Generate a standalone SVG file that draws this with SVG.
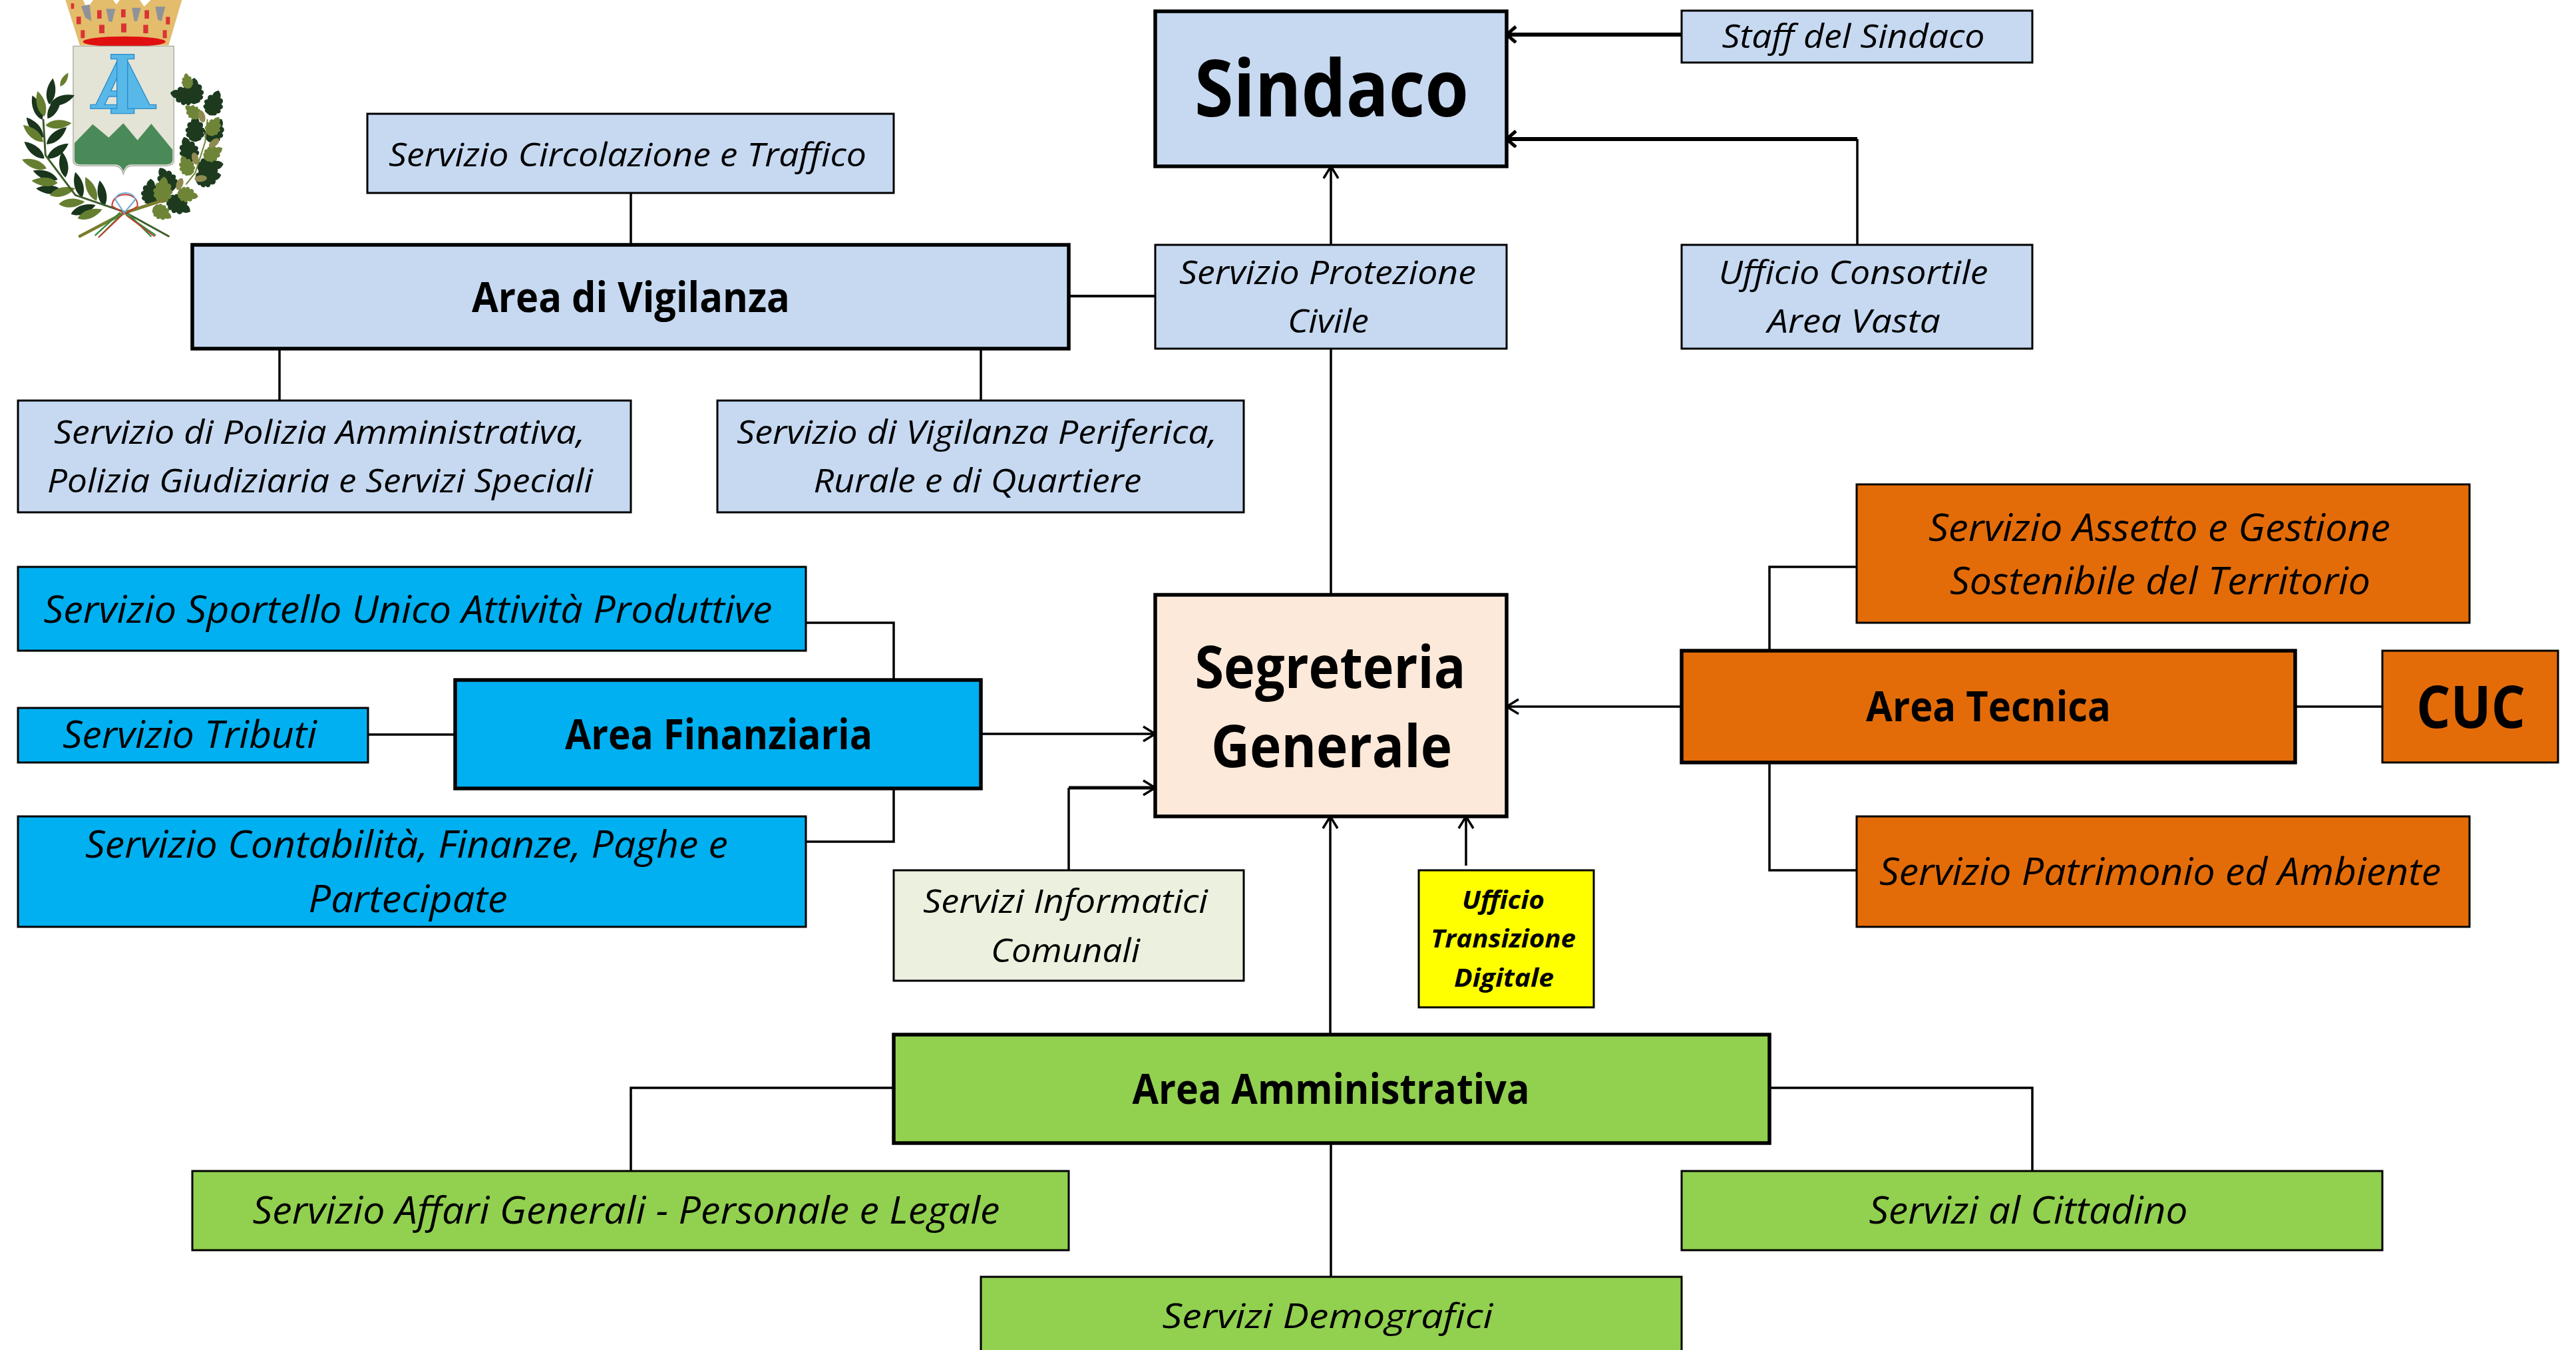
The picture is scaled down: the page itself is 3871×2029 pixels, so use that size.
<svg xmlns="http://www.w3.org/2000/svg" xmlns:xlink="http://www.w3.org/1999/xlink" width="3871" height="2029" viewBox="0 0 3871 2029">
<style>
text{font-family:"Open Sans","Noto Sans","Liberation Sans",sans-serif;fill:#000;text-anchor:middle}
.n{font-size:50px;font-style:italic;font-weight:400}
.l{font-size:56px;font-style:italic;font-weight:400}
.b{font-size:62px;font-weight:700}
.h{font-size:88px;font-weight:700}
.y{font-size:38px;font-style:italic;font-weight:700}
.t{stroke:#000;stroke-width:5.5}
.f{stroke:#000;stroke-width:3}
.c{fill:none;stroke:#000;stroke-width:3.5}
.k{fill:none;stroke:#000;stroke-width:6}
.blue{fill:#C6D9F1}.cy{fill:#00B0F0}.or{fill:#E36C09}.gr{fill:#92D050}.be{fill:#FDE9D9}.pg{fill:#EBF1DE}.ye{fill:#FFFF00}
</style>
<defs>
<marker id="a" markerUnits="userSpaceOnUse" markerWidth="30" markerHeight="30" refX="24" refY="13" orient="auto"><path d="M6 2L24 13L6 24" fill="none" stroke="#000" stroke-width="3.5"/></marker>
<marker id="ak" markerUnits="userSpaceOnUse" markerWidth="30" markerHeight="30" refX="24" refY="13" orient="auto"><path d="M10 1L24 13L10 25" fill="none" stroke="#000" stroke-width="5"/></marker>
<path id="lf" d="M0 0C-26 -28 -26 -78 0 -118C26 -78 26 -28 0 0Z"/>
<g id="oak" transform="scale(1.35)"><path d="M0 0C-12 -4 -24 -6 -20 -14C-30 -16 -34 -26 -26 -30C-36 -36 -34 -46 -24 -48C-30 -58 -24 -68 -14 -66C-14 -78 -6 -84 0 -88C6 -84 14 -78 14 -66C24 -68 30 -58 24 -48C34 -46 36 -36 26 -30C34 -26 30 -16 20 -14C24 -6 12 -4 0 0Z"/></g>
</defs>
<rect width="3871" height="2029" fill="#fff"/>
<g id="emblem" transform="scale(0.3333)">
<g id="crown">
<path d="M295 0L375 0L392 40L420 0L510 0L525 20L540 0L630 0L650 30L680 0L820 0L760 205L360 205Z" fill="#E3BC6C"/>
<path d="M366 28L404 20L412 95L385 80ZM478 40L520 40L505 100L490 95ZM595 35L635 35L618 95L605 95ZM700 30L745 30L728 95L712 90Z" fill="#8E939A"/>
<g fill="#D93434"><rect x="320" y="15" width="14" height="25"/><rect x="345" y="75" width="20" height="34"/><rect x="438" y="46" width="20" height="38"/><rect x="546" y="42" width="20" height="36"/><rect x="652" y="46" width="20" height="38"/><rect x="748" y="76" width="18" height="34"/><rect x="364" y="136" width="18" height="36"/><rect x="447" y="112" width="24" height="38"/><rect x="546" y="106" width="24" height="40"/><rect x="646" y="112" width="22" height="38"/><rect x="734" y="136" width="18" height="36"/></g>
<ellipse cx="560" cy="188" rx="186" ry="24" fill="#E01010"/>
</g>
<path d="M330 208H784V725Q784 748 740 748H590Q565 752 556 785Q547 752 522 748H372Q330 748 330 725Z" fill="#E3E3D6" stroke="#A8A8A0" stroke-width="4"/>
<path d="M336 645L418 560L490 620L556 556L620 632L682 558L778 675V722Q778 742 740 742H590Q566 744 556 772Q546 744 522 742H372Q336 742 336 722Z" fill="#4A8A58"/>
<g fill="#58B8E8" stroke="#2A8CCC" stroke-width="4">
<path fill-rule="evenodd" d="M408 490V472H432L528 275H575L675 472H704V490ZM500 410L528 350V410ZM472 472L490 435H528V472Z"/>
<path d="M500 245H605V266H575V490H605V512H500V490H527V266H500Z"/>
</g>
<g fill="#19351C">
<use xlink:href="#lf" transform="translate(222,470) rotate(8)"/><use xlink:href="#lf" transform="translate(225,470) rotate(70)"/><use xlink:href="#lf" transform="translate(190,540) rotate(-22)"/><use xlink:href="#lf" transform="translate(215,535) rotate(30)"/>
<use xlink:href="#lf" transform="translate(195,620) rotate(-40)"/><use xlink:href="#lf" transform="translate(210,650) rotate(50)"/><use xlink:href="#lf" transform="translate(200,715) rotate(-50)"/><use xlink:href="#lf" transform="translate(212,715) rotate(55)"/>
<use xlink:href="#lf" transform="translate(295,800) rotate(-8)"/><use xlink:href="#lf" transform="translate(260,810) rotate(-70)"/><use xlink:href="#lf" transform="translate(280,860) rotate(-85)"/><use xlink:href="#lf" transform="translate(370,890) rotate(-15)"/><use xlink:href="#lf" transform="translate(470,930) rotate(-10)"/><use xlink:href="#lf" transform="translate(320,965) rotate(70)"/>
</g>
<g fill="#667E30">
<use xlink:href="#lf" transform="translate(272,390) rotate(30) scale(.6)"/><use xlink:href="#lf" transform="translate(200,525) rotate(-15)"/><use xlink:href="#lf" transform="translate(205,565) rotate(85)"/><use xlink:href="#lf" transform="translate(195,640) rotate(-50)"/><use xlink:href="#lf" transform="translate(210,760) rotate(-70)"/><use xlink:href="#lf" transform="translate(260,825) rotate(-85)"/><use xlink:href="#lf" transform="translate(225,880) rotate(75)"/><use xlink:href="#lf" transform="translate(435,905) rotate(-25)"/><use xlink:href="#lf" transform="translate(265,920) rotate(85)"/><use xlink:href="#lf" transform="translate(350,985) rotate(70)"/>
</g>
<g fill="#1D3A1F">
<use xlink:href="#oak" transform="translate(875,470)"/><use xlink:href="#oak" transform="translate(885,440) rotate(-80)"/><use xlink:href="#oak" transform="translate(945,520) rotate(20)"/><use xlink:href="#oak" transform="translate(880,640)"/><use xlink:href="#oak" transform="translate(940,640) rotate(30)"/><use xlink:href="#oak" transform="translate(870,730) rotate(-20)"/><use xlink:href="#oak" transform="translate(890,760) rotate(80)"/><use xlink:href="#oak" transform="translate(880,810) rotate(80)"/><use xlink:href="#oak" transform="translate(780,860) rotate(-30)"/><use xlink:href="#oak" transform="translate(680,925) rotate(0)"/><use xlink:href="#oak" transform="translate(755,895) rotate(120)"/>
</g>
<g fill="#6E8538">
<use xlink:href="#oak" transform="translate(850,400) rotate(-10) scale(.6)"/><use xlink:href="#oak" transform="translate(900,530) rotate(-50) scale(.7)"/><use xlink:href="#oak" transform="translate(940,610) rotate(30) scale(.8)"/><use xlink:href="#oak" transform="translate(920,715) rotate(60) scale(.8)"/><use xlink:href="#oak" transform="translate(860,790) rotate(-25) scale(.8)"/><use xlink:href="#oak" transform="translate(730,915) rotate(5)"/><use xlink:href="#oak" transform="translate(800,870) rotate(100) scale(.8)"/><use xlink:href="#oak" transform="translate(690,935) rotate(120) scale(.8)"/>
</g>
<g fill="none" stroke-linecap="round">
<path d="M360 1065L560 960L745 900" stroke="#7A7D2E" stroke-width="14"/>
<path d="M760 1065L560 955L340 880L205 700L195 540" stroke="#3E5D28" stroke-width="9"/>
<path d="M935 540L925 640L880 780L840 830" stroke="#6E8538" stroke-width="6"/>
<path d="M505 930C505 860 625 860 620 930L565 965L505 930" stroke="#CC3A2E" stroke-width="6"/>
<path d="M520 900C530 860 600 860 610 900L560 960L520 900" stroke="#6BA8D8" stroke-width="6"/>
<path d="M540 960L430 1060M545 970L450 1065M580 965L680 1065M570 970L700 1060" stroke="#2F8A3B" stroke-width="7"/>
<path d="M550 970L445 1070M575 975L695 1065" stroke="#CC3A2E" stroke-width="6"/>
</g>
<g fill="#8E8A50"><ellipse cx="910" cy="525" rx="15" ry="28" transform="rotate(-15 910 525)"/><ellipse cx="965" cy="645" rx="15" ry="28" transform="rotate(50 965 645)"/><ellipse cx="880" cy="715" rx="15" ry="28" transform="rotate(-15 880 715)"/><ellipse cx="905" cy="805" rx="15" ry="28" transform="rotate(85 905 805)"/><ellipse cx="810" cy="830" rx="15" ry="28" transform="rotate(20 810 830)"/></g>
</g>
<g id="connectors">
<path class="k" marker-end="url(#ak)" d="M2527 52H2264"/>
<path class="c" d="M2791 368V209"/><path class="k" marker-end="url(#ak)" d="M2791 209H2264"/>
<path class="c" marker-end="url(#a)" d="M2000 368V250"/>
<path class="c" d="M2000 894V524"/>
<path class="k" style="stroke-width:4" d="M1606 445H1736"/>
<path class="c" d="M948 290V368"/><path class="c" d="M420 524V602"/><path class="c" d="M1474 524V602"/>
<path class="c" d="M1211 936H1343V1022"/><path class="c" d="M1343 1185V1265H1211"/>
<path class="c" d="M553 1104H684"/>
<path class="c" marker-end="url(#a)" d="M1474 1103H1736"/>
<path class="c" d="M1606 1308V1184"/><path class="k" style="stroke-width:5" marker-end="url(#a)" d="M1606 1184H1736"/>
<path class="c" marker-end="url(#a)" d="M2203 1301V1227"/>
<path class="c" marker-end="url(#a)" d="M1999 1555V1227"/>
<path class="c" marker-end="url(#a)" d="M2527 1062H2264"/>
<path class="c" d="M3449 1062H3580"/>
<path class="c" d="M2790 852H2659V978"/><path class="c" d="M2659 1146V1308H2790"/>
<path class="c" d="M1343 1635H948V1760"/><path class="c" d="M2659 1635H3054V1760"/>
<path class="c" d="M2000 1718V1919"/>
</g>
<g id="sindaco"><rect class="t blue" x="1736" y="17" width="528" height="233"/><text class="h" style="font-size:118px" x="2001" y="175" textLength="412" lengthAdjust="spacingAndGlyphs">Sindaco</text></g>
<g id="staff"><rect class="f blue" x="2527" y="16" width="527" height="78"/><text class="n" x="2785" y="72" textLength="395" lengthAdjust="spacingAndGlyphs">Staff del Sindaco</text></g>
<g id="protezione"><rect class="f blue" x="1736" y="368" width="528" height="156"/><text class="n" x="1995" y="427" textLength="446" lengthAdjust="spacingAndGlyphs">Servizio Protezione</text><text class="n" x="1996" y="500" textLength="122" lengthAdjust="spacingAndGlyphs">Civile</text></g>
<g id="consortile"><rect class="f blue" x="2527" y="368" width="527" height="156"/><text class="n" x="2785" y="427" textLength="405" lengthAdjust="spacingAndGlyphs">Ufficio Consortile</text><text class="n" x="2786" y="500" textLength="260" lengthAdjust="spacingAndGlyphs">Area Vasta</text></g>
<g id="circolazione"><rect class="f blue" x="552" y="171" width="791" height="119"/><text class="n" x="943" y="250" textLength="718" lengthAdjust="spacingAndGlyphs">Servizio Circolazione e Traffico</text></g>
<g id="vigilanza"><rect class="t blue" x="289" y="368" width="1317" height="156"/><text class="b" x="948" y="469" textLength="478" lengthAdjust="spacingAndGlyphs">Area di Vigilanza</text></g>
<g id="polizia"><rect class="f blue" x="27" y="602" width="921" height="168"/><text class="n" x="480" y="667" textLength="798" lengthAdjust="spacingAndGlyphs">Servizio di Polizia Amministrativa,</text><text class="n" x="481" y="740" textLength="820" lengthAdjust="spacingAndGlyphs">Polizia Giudiziaria e Servizi Speciali</text></g>
<g id="periferica"><rect class="f blue" x="1078" y="602" width="791" height="168"/><text class="n" x="1468" y="667" textLength="722" lengthAdjust="spacingAndGlyphs">Servizio di Vigilanza Periferica,</text><text class="n" x="1469" y="740" textLength="493" lengthAdjust="spacingAndGlyphs">Rurale e di Quartiere</text></g>
<g id="sportello"><rect class="f cy" x="27" y="852" width="1184" height="126"/><text class="l" x="613" y="936" textLength="1095" lengthAdjust="spacingAndGlyphs">Servizio Sportello Unico Attività Produttive</text></g>
<g id="tributi"><rect class="f cy" x="27" y="1064" width="526" height="82"/><text class="l" x="285" y="1124" textLength="382" lengthAdjust="spacingAndGlyphs">Servizio Tributi</text></g>
<g id="finanziaria"><rect class="t cy" x="684" y="1022" width="790" height="163"/><text class="b" x="1080" y="1126" textLength="462" lengthAdjust="spacingAndGlyphs">Area Finanziaria</text></g>
<g id="contabilita"><rect class="f cy" x="27" y="1227" width="1184" height="166"/><text class="l" x="611" y="1289" textLength="966" lengthAdjust="spacingAndGlyphs">Servizio Contabilità, Finanze, Paghe e</text><text class="l" x="613" y="1371" textLength="299" lengthAdjust="spacingAndGlyphs">Partecipate</text></g>
<g id="segreteria"><rect class="t be" x="1736" y="894" width="528" height="333"/><text class="h" x="1999" y="1034" textLength="407" lengthAdjust="spacingAndGlyphs">Segreteria</text><text class="h" x="2001" y="1153" textLength="362" lengthAdjust="spacingAndGlyphs">Generale</text></g>
<g id="informatici"><rect class="f pg" x="1343" y="1308" width="526" height="166"/><text class="n" x="1601" y="1372" textLength="428" lengthAdjust="spacingAndGlyphs">Servizi Informatici</text><text class="n" x="1601" y="1446" textLength="224" lengthAdjust="spacingAndGlyphs">Comunali</text></g>
<g id="transizione"><rect class="f ye" x="2132" y="1308" width="263" height="206"/><text class="y" x="2259" y="1366" textLength="124" lengthAdjust="spacingAndGlyphs">Ufficio</text><text class="y" x="2259" y="1424" textLength="218" lengthAdjust="spacingAndGlyphs">Transizione</text><text class="y" x="2260" y="1483" textLength="150" lengthAdjust="spacingAndGlyphs">Digitale</text></g>
<g id="amministrativa"><rect class="t gr" x="1343" y="1555" width="1316" height="163"/><text class="b" x="2000" y="1659" textLength="597" lengthAdjust="spacingAndGlyphs">Area Amministrativa</text></g>
<g id="affari"><rect class="f gr" x="289" y="1760" width="1317" height="119"/><text class="l" x="941" y="1839" textLength="1123" lengthAdjust="spacingAndGlyphs">Servizio Affari Generali - Personale e Legale</text></g>
<g id="cittadino"><rect class="f gr" x="2527" y="1760" width="1053" height="119"/><text class="l" x="3048" y="1839" textLength="479" lengthAdjust="spacingAndGlyphs">Servizi al Cittadino</text></g>
<g id="demografici"><rect class="f gr" x="1474" y="1919" width="1053" height="130"/><text class="n" style="font-size:52px" x="1995" y="1996" textLength="497" lengthAdjust="spacingAndGlyphs">Servizi Demografici</text></g>
<g id="tecnica"><rect class="t or" x="2527" y="978" width="922" height="168"/><text class="b" x="2988" y="1084" textLength="368" lengthAdjust="spacingAndGlyphs">Area Tecnica</text></g>
<g id="cuc"><rect class="f or" x="3580" y="978" width="264" height="168"/><text class="h" x="3713" y="1094" textLength="164" lengthAdjust="spacingAndGlyphs">CUC</text></g>
<g id="assetto"><rect class="f or" x="2790" y="728" width="921" height="208"/><text class="l" x="3245" y="813" textLength="694" lengthAdjust="spacingAndGlyphs">Servizio Assetto e Gestione</text><text class="l" x="3246" y="893" textLength="632" lengthAdjust="spacingAndGlyphs">Sostenibile del Territorio</text></g>
<g id="patrimonio"><rect class="f or" x="2790" y="1227" width="921" height="166"/><text class="l" x="3246" y="1330" textLength="844" lengthAdjust="spacingAndGlyphs">Servizio Patrimonio ed Ambiente</text></g>
</svg>
